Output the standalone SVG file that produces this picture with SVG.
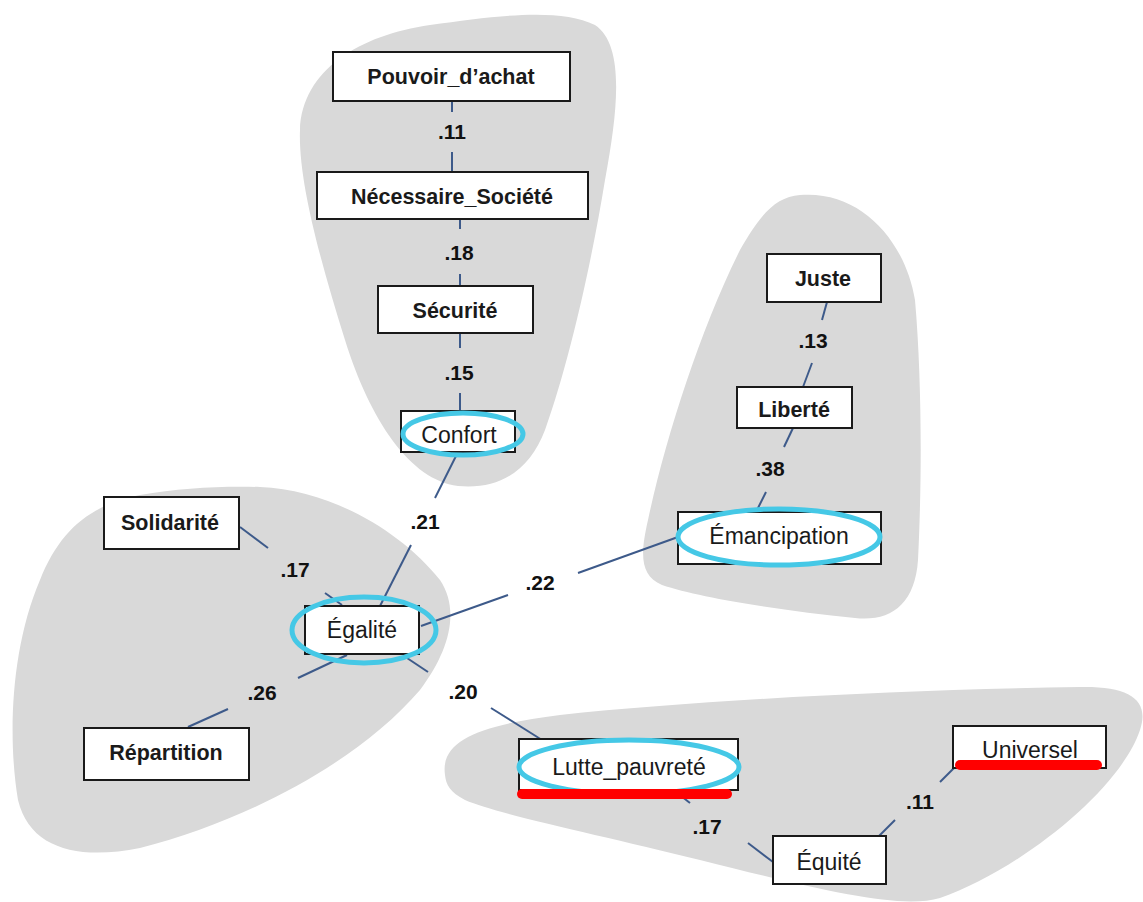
<svg xmlns="http://www.w3.org/2000/svg" width="1143" height="902" viewBox="0 0 1143 902">
<style>
.blob{fill:#d9d9d9;stroke:none}
.box{fill:#fff;stroke:#1a1a1a;stroke-width:2}
.hl{fill:none;stroke:#45c8e6;stroke-width:5}
.red{stroke:#ff0000;stroke-width:10;stroke-linecap:round;fill:none}
.con line{stroke:#3d5a8a;stroke-width:2}
.t{font-family:"Liberation Sans",Arial,sans-serif;font-size:23px;text-anchor:middle;fill:#1a1a1a}
.tb{font-weight:bold;font-size:21.5px}
.n{font-family:"Liberation Sans",Arial,sans-serif;font-size:21px;font-weight:bold;text-anchor:middle;fill:#111}
</style>
<rect width="1143" height="902" fill="#fff"/>
<g id="clusters">
<path class="blob" d="M458,486 C410,480 370,420 345,340 C320,260 298,180 300,130 C302,70 360,35 430,25 C500,15 560,8 595,25 C625,45 618,110 605,180 C592,260 570,360 545,430 C530,470 500,490 458,486 Z"/>
<path class="blob" d="M800,195 C860,190 905,240 915,300 C922,380 922,480 918,560 C915,605 890,622 855,618 C780,610 700,598 662,585 C640,575 640,555 648,520 C665,440 700,330 740,250 C760,215 775,197 800,195 Z"/>
<path class="blob" d="M260,487 C330,490 400,530 440,580 C460,610 450,650 420,690 C360,760 250,820 140,848 C80,860 30,850 18,800 C8,740 10,650 40,580 C60,530 90,505 140,495 C180,488 220,486 260,487 Z"/>
<path class="blob" d="M445,775 C440,740 480,725 560,715 C700,700 900,690 1080,687 C1130,686 1150,700 1140,730 C1120,790 1020,870 940,898 C900,910 820,890 700,860 C600,835 500,815 465,800 C450,792 446,785 445,775 Z"/>
</g>
<g id="connectors" class="con">
<line x1="452" y1="101" x2="452" y2="112"/><line x1="452" y1="152" x2="452" y2="172"/>
<line x1="460" y1="219" x2="460" y2="229"/><line x1="460" y1="274" x2="460" y2="286"/>
<line x1="460" y1="333" x2="460" y2="348"/><line x1="460" y1="393" x2="460" y2="411"/>
<line x1="458" y1="452" x2="435" y2="498"/><line x1="411" y1="545" x2="380" y2="606"/>
<line x1="240" y1="527" x2="268" y2="548"/><line x1="325" y1="593" x2="342" y2="605"/>
<line x1="188" y1="727" x2="228" y2="709"/><line x1="298" y1="678" x2="347" y2="655"/>
<line x1="421" y1="626" x2="508" y2="595"/><line x1="578" y1="573" x2="678" y2="537"/>
<line x1="407" y1="658" x2="428" y2="672"/><line x1="491" y1="708" x2="542" y2="740"/>
<line x1="827" y1="302" x2="822" y2="320"/><line x1="812" y1="363" x2="803" y2="387"/>
<line x1="793" y1="428" x2="784" y2="447"/><line x1="766" y1="492" x2="757" y2="510"/>
<line x1="676" y1="792" x2="690" y2="803"/><line x1="748" y1="843" x2="773" y2="862"/>
<line x1="879" y1="836" x2="895" y2="820"/><line x1="940" y1="782" x2="956" y2="766"/>
</g>
<g id="labels">
<text class="n" x="452" y="139">.11</text>
<text class="n" x="459" y="260">.18</text>
<text class="n" x="459" y="380">.15</text>
<text class="n" x="425" y="529">.21</text>
<text class="n" x="295" y="577">.17</text>
<text class="n" x="262" y="700">.26</text>
<text class="n" x="540" y="590">.22</text>
<text class="n" x="463" y="699">.20</text>
<text class="n" x="813" y="348">.13</text>
<text class="n" x="770" y="476">.38</text>
<text class="n" x="707" y="834">.17</text>
<text class="n" x="920" y="809">.11</text>
</g>
<g id="n-pouvoir"><rect class="box" x="333" y="52" width="237" height="49"/><text class="t tb" x="451" y="84">Pouvoir_d’achat</text></g>
<g id="n-necessaire"><rect class="box" x="317" y="172" width="271" height="47"/><text class="t tb" x="452" y="204">Nécessaire_Société</text></g>
<g id="n-securite"><rect class="box" x="378" y="286" width="155" height="47"/><text class="t tb" x="455" y="318">Sécurité</text></g>
<g id="n-confort"><rect class="box" x="401" y="411" width="114" height="41"/><text class="t" x="459" y="443">Confort</text><ellipse class="hl" cx="463" cy="434" rx="60" ry="21"/></g>
<g id="n-solidarite"><rect class="box" x="104" y="497" width="135" height="52"/><text class="t tb" x="170" y="530">Solidarité</text></g>
<g id="n-egalite"><rect class="box" x="305" y="606" width="114" height="48"/><text class="t" x="362" y="638">Égalité</text><ellipse class="hl" cx="364" cy="630" rx="72" ry="33"/></g>
<g id="n-repartition"><rect class="box" x="84" y="728" width="165" height="52"/><text class="t tb" x="166" y="760">Répartition</text></g>
<g id="n-juste"><rect class="box" x="767" y="254" width="114" height="48"/><text class="t tb" x="823" y="286">Juste</text></g>
<g id="n-liberte"><rect class="box" x="737" y="387" width="115" height="41"/><text class="t tb" x="794" y="417">Liberté</text></g>
<g id="n-emancipation"><rect class="box" x="678" y="512" width="203" height="52"/><text class="t" x="779" y="544">Émancipation</text><ellipse class="hl" cx="779" cy="537" rx="101" ry="28"/></g>
<g id="n-lutte"><rect class="box" x="519" y="739" width="219" height="51"/><text class="t" x="629" y="775">Lutte_pauvreté</text><ellipse class="hl" cx="629" cy="767" rx="110" ry="27"/><line class="red" x1="522" y1="794" x2="727" y2="794"/></g>
<g id="n-universel"><rect class="box" x="953" y="726" width="153" height="42"/><text class="t" x="1030" y="758">Universel</text><line class="red" x1="960" y1="765" x2="1097" y2="765"/></g>
<g id="n-equite"><rect class="box" x="773" y="836" width="113" height="48"/><text class="t" x="829" y="870">Équité</text></g>
</svg>
